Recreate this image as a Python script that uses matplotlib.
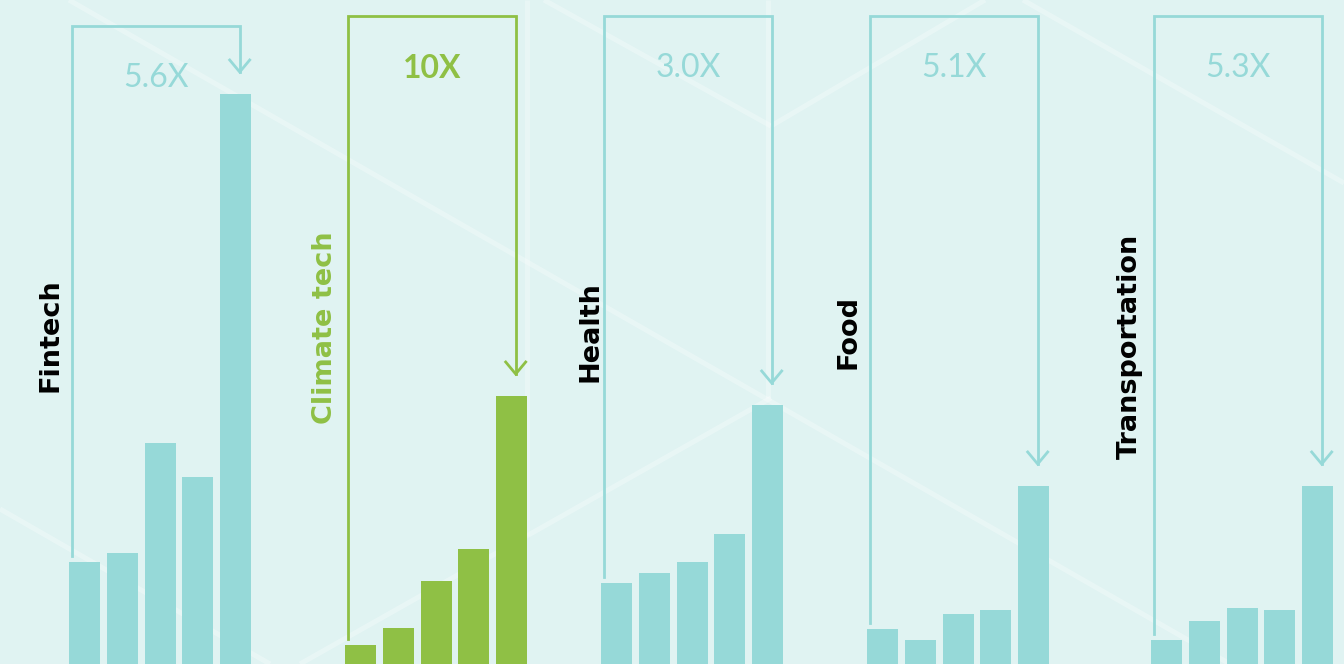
import matplotlib.pyplot as plt

# categories and the growth multiple printed above each group
categories = ['Fintech', 'Climate tech', 'Health', 'Food', 'Transportation']
multipliers = ['5.6X', '10X', '3.0X', '5.1X', '5.3X']

# bar values for each category (5 periods)
fintech = [102, 111, 221, 187, 570]
climate_tech = [19, 36, 83, 115, 268]
health = [81, 91, 102, 130, 259]
food = [35, 24, 50, 54, 178]
transportation = [24, 43, 56, 54, 178]
series = [fintech, climate_tech, health, food, transportation]
highlight = 'Climate tech'

# colours
bg = '#e0f3f2'
teal = '#96d9d8'
green = '#8fc045'

# layout, in pixels (y measured up from the bottom)
W, H = 1344, 664
group_left = [69, 345, 601, 867, 1151]
bar_step = 37.8
bar_w = 31
bracket_top = [638, 648, 648, 648, 648]
label_x = [57, 332, 597, 855, 1137]
label_y = [329, 336, 332, 332, 318]

# faint white background lines (x, y from top)
bg_lines = [((69, 0), (1230, 664)), ((0, 509), (270, 664)),
            ((300, 664), (771, 398)), ((544, 0), (771, 126)),
            ((771, 126), (985, 0)), ((1023, 0), (1344, 183)),
            ((527, 0), (527, 536)), ((768, 0), (768, 398))]

fig = plt.figure(figsize=(W / 100, H / 100), dpi=100)
fig.patch.set_facecolor(bg)
ax = fig.add_axes([0, 0, 1, 1])
ax.set_facecolor(bg)
ax.set_xlim(0, W)
ax.set_ylim(0, H)
ax.axis('off')

for (x0, y0), (x1, y1) in bg_lines:
    ax.plot([x0, x1], [H - y0, H - y1], color='white', alpha=0.28, lw=3.6,
            solid_capstyle='butt', zorder=0)

lw = 2.0
for i, (name, vals) in enumerate(zip(categories, series)):
    col = green if name == highlight else teal
    xs = [group_left[i] + k * bar_step for k in range(len(vals))]
    ax.bar(xs, vals, width=bar_w, align='edge', color=col, zorder=2)

    # bracket from first bar up, across, and down to an arrow over the last bar
    lx = xs[0] + 3
    rx = xs[-1] + bar_w / 2 + 4
    top = bracket_top[i]
    tip = vals[-1] + 22
    ax.plot([lx, lx, rx, rx], [vals[0] + 6, top, top, tip], color=col, lw=lw,
            solid_joinstyle='miter', zorder=3)
    ax.plot([rx - 10, rx, rx + 10], [tip + 12, tip, tip + 12], color=col, lw=lw,
            solid_joinstyle='miter', zorder=3)

    weight = 'bold' if name == highlight else 'normal'
    ax.text((lx + rx) / 2, top - 52, multipliers[i], color=col, fontsize=23,
            fontweight=weight, family='Lato', ha='center', va='center')

    ax.text(label_x[i], label_y[i], name, rotation=90, rotation_mode='anchor',
            ha='center', va='baseline', fontsize=19.5, fontweight='bold',
            color=col if name == highlight else 'black')

plt.savefig('out.png', dpi=100, facecolor=bg)
